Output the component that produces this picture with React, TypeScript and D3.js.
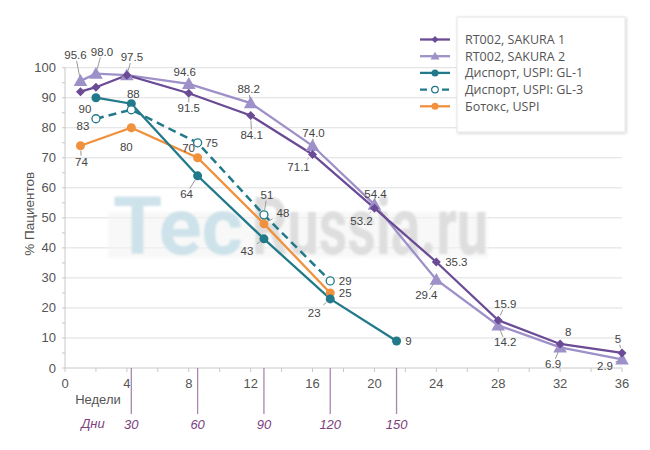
import React from "react";
import * as d3 from "d3";

// ---- Data ----
const sakuraWeeks = [1, 2, 4, 8, 12, 16, 20, 24, 28, 32, 36];
const sakura1Values = [92, 93.5, 97.5, 91.5, 84.1, 71.1, 53.2, 35.3, 15.9, 8, 5];
const sakura1Labels = ["", "", "", "91.5", "84.1", "71.1", "53.2", "35.3", "15.9", "8", "5"];
const sakura2Values = [95.6, 98.0, 97.5, 94.6, 88.2, 74.0, 54.4, 29.4, 14.2, 6.9, 2.9];
const sakura2Labels = ["95.6", "98.0", "97.5", "94.6", "88.2", "74.0", "54.4", "29.4", "14.2", "6.9", "2.9"];

const gl1Days = [14, 30, 60, 90, 120, 150];
const gl1Values = [90, 88, 64, 43, 23, 9];
const gl3Days = [14, 30, 60, 90, 120];
const gl3Values = [83, 86, 75, 51, 29];
const gl3Labels = ["83", "", "75", "51", "29"];
const botoxDays = [7, 30, 60, 90, 120];
const botoxValues = [74, 80, 70, 48, 25];

const yTicks = [0, 10, 20, 30, 40, 50, 60, 70, 80, 90, 100];
const xTicks = [0, 4, 8, 12, 16, 20, 24, 28, 32, 36];
const dayMarks = [30, 60, 90, 120, 150];

const legendNames = [
  "RT002, SAKURA 1",
  "RT002, SAKURA 2",
  "Диспорт, USPI: GL-1",
  "Диспорт, USPI: GL-3",
  "Ботокс, USPI",
];

// ---- Layout (label offsets in px relative to their point; leader flag) ----
const sakura1Off: [number, number, boolean][] = [
  [0, 0, false], [0, 0, false], [0, 0, false], [0, 15, true], [1, 20, true],
  [-14, 13, true], [-13, 13, true], [20, 0, false], [7, -16, true], [8, -12, false], [-4, -14, true],
];
const sakura2Off: [number, number, boolean][] = [
  [-5, -26, true], [6, -22, true], [5, -18, true], [-4, -12, false], [-2, -14, true],
  [1, -13, true], [1, -11, true], [-10, 15, true], [7, 17, true], [-7, 17, true], [-17, 7, true],
];
const gl1Off: [number, number, boolean][] = [
  [-11, 11, false], [2, -10, false], [-11, 18, true], [-17, 12, true], [-16, 14, true], [12, 0, false],
];
const gl3Off: [number, number, boolean][] = [
  [-13, 7, false], [0, 0, false], [14, 0, false], [3, -20, true], [15, 0, false],
];
const botoxOff: [number, number, boolean][] = [
  [1, 16, true], [-5, 19, false], [-9, -10, false], [19, -11, true], [15, 0, false],
];

const W = 650;
const H = 450;
const C1 = "#6b4b95";
const C2 = "#9e90c8";
const CT = "#21798a";
const CO = "#f0913d";
const FONT = "'Liberation Sans', Arial, sans-serif";

export default function App() {
  const x = d3.scaleLinear().domain([0, 36]).range([65, 622]);
  const y = d3.scaleLinear().domain([0, 100]).range([368, 67.7]);
  const line = d3.line<[number, number]>().x((d) => x(d[0])).y((d) => y(d[1]));

  const s1 = sakuraWeeks.map((w, i) => [w, sakura1Values[i]] as [number, number]);
  const s2 = sakuraWeeks.map((w, i) => [w, sakura2Values[i]] as [number, number]);
  const g1 = gl1Days.map((d, i) => [d / 7, gl1Values[i]] as [number, number]);
  const g3 = gl3Days.map((d, i) => [d / 7, gl3Values[i]] as [number, number]);
  const bo = botoxDays.map((d, i) => [d / 7, botoxValues[i]] as [number, number]);

  const diamond = (cx: number, cy: number, r = 4.5) =>
    `M${cx},${cy - r}L${cx + r},${cy}L${cx},${cy + r}L${cx - r},${cy}Z`;
  const triangle = (cx: number, cy: number, r = 6.8) =>
    `M${cx},${cy - r}L${cx + r},${cy + r * 0.75}L${cx - r},${cy + r * 0.75}Z`;

  const labels = (
    pts: [number, number][],
    texts: string[],
    offs: [number, number, boolean][],
    key: string
  ) =>
    pts.map((p, i) => {
      const t = texts[i];
      if (!t) return null;
      const px = x(p[0]);
      const py = y(p[1]);
      const [dx, dy, leader] = offs[i];
      const lx = px + dx;
      const ly = py + dy;
      let ln = null;
      if (leader) {
        const len = Math.hypot(dx, dy);
        const ux = dx / len;
        const uy = dy / len;
        const startD = 5;
        const endD = Math.max(startD + 2, len - (Math.abs(ux) > 0.7 ? 12 : 6));
        ln = (
          <line
            x1={px + ux * startD}
            y1={py + uy * startD}
            x2={px + ux * endD}
            y2={py + uy * endD}
            stroke="#999"
            strokeWidth={1}
          />
        );
      }
      return (
        <g key={key + i}>
          {ln}
          <text
            x={lx}
            y={ly}
            textAnchor="middle"
            dominantBaseline="central"
            fontSize={11.5}
            fill="#444"
            fontFamily={FONT}
          >
            {t}
          </text>
        </g>
      );
    });

  const legendY = (i: number) => 39.5 + i * 16.7;

  return (
    <svg
      width={W}
      height={H}
      style={{ position: "absolute", left: 0, top: 0, background: "#fff" }}
      fontFamily={FONT}
    >
      <defs>
        <filter id="shadow" x="-10%" y="-10%" width="130%" height="130%">
          <feDropShadow dx="1" dy="1" stdDeviation="1.5" floodColor="#000" floodOpacity="0.18" />
        </filter>
        <filter id="blur">
          <feGaussianBlur stdDeviation="1" />
        </filter>
      </defs>

      {/* gridlines */}
      {yTicks.slice(1).map((t) => (
        <line key={"g" + t} x1={x(0)} x2={x(36)} y1={y(t)} y2={y(t)} stroke="#dedede" strokeWidth={1} />
      ))}

      {/* watermark */}
      <rect x={108} y={212} width={380} height={46} fill="#f4f4f4" opacity={0.6} filter="url(#blur)" />
      <g
        fontSize={80}
        fontWeight="bold"
        fontFamily="Roboto, 'Liberation Sans', sans-serif"
        filter="url(#blur)"
      >
        <text x={113} y={254} fill="#cde2ea" textLength={130} lengthAdjust="spacingAndGlyphs">
          Tec
        </text>
        <text x={252} y={254} fill="#dedede" textLength={236} lengthAdjust="spacingAndGlyphs">
          Russia.ru
        </text>
      </g>

      {/* axes */}
      <line x1={x(0)} x2={x(36)} y1={y(0)} y2={y(0)} stroke="#c8c8c8" />
      <line x1={x(0)} x2={x(0)} y1={y(0)} y2={y(100)} stroke="#c8c8c8" />
      {d3.range(0, 101, 5).map((t) => (
        <line key={"yt" + t} x1={x(0) - 3} x2={x(0)} y1={y(t)} y2={y(t)} stroke="#c8c8c8" />
      ))}
      {d3.range(0, 37, 2).map((t) => (
        <line key={"xt" + t} x1={x(t)} x2={x(t)} y1={y(0)} y2={y(0) + 4} stroke="#c8c8c8" />
      ))}
      {yTicks.map((t) => (
        <text key={"yl" + t} x={x(0) - 9} y={y(t)} textAnchor="end" dominantBaseline="central" fontSize={13} fill="#555">
          {t}
        </text>
      ))}
      {xTicks.map((t) => (
        <text key={"xl" + t} x={x(t)} y={y(0) + 15} textAnchor="middle" dominantBaseline="central" fontSize={13} fill="#555">
          {t}
        </text>
      ))}
      <text
        transform={`translate(29,${(y(0) + y(100)) / 2 - 4}) rotate(-90)`}
        textAnchor="middle"
        dominantBaseline="central"
        fontSize={13.5}
        fill="#555"
      >
        % Пациентов
      </text>
      <text x={98} y={399} textAnchor="middle" dominantBaseline="central" fontSize={13} fill="#555">
        Недели
      </text>

      {/* day scale */}
      {dayMarks.map((d) => (
        <g key={"d" + d}>
          <line x1={x(d / 7)} x2={x(d / 7)} y1={y(0)} y2={414} stroke="#a987ad" strokeWidth={1.3} />
          <text x={x(d / 7)} y={424} textAnchor="middle" dominantBaseline="central" fontSize={13} fontStyle="italic" fill="#7b3f80">
            {d}
          </text>
        </g>
      ))}
      <text x={93} y={423} textAnchor="middle" dominantBaseline="central" fontSize={13} fontStyle="italic" fill="#7b3f80">
        Дни
      </text>

      {/* lines */}
      <path d={line(bo) || ""} fill="none" stroke={CO} strokeWidth={2.3} />
      <path d={line(g1) || ""} fill="none" stroke={CT} strokeWidth={2.3} />
      <path d={line(g3) || ""} fill="none" stroke={CT} strokeWidth={2.5} strokeDasharray="8,5" />
      <path d={line(s2) || ""} fill="none" stroke={C2} strokeWidth={2.3} />
      <path d={line(s1) || ""} fill="none" stroke={C1} strokeWidth={2.3} />

      {/* markers */}
      {bo.map((p, i) => (
        <circle key={"bo" + i} cx={x(p[0])} cy={y(p[1])} r={4.5} fill={CO} />
      ))}
      {g1.map((p, i) => (
        <circle key={"g1" + i} cx={x(p[0])} cy={y(p[1])} r={4.5} fill={CT} />
      ))}
      {g3.map((p, i) => (
        <circle key={"g3" + i} cx={x(p[0])} cy={y(p[1])} r={4} fill="#fff" stroke={CT} strokeWidth={1.3} />
      ))}
      {s2.map((p, i) => (
        <path key={"s2" + i} d={triangle(x(p[0]), y(p[1]))} fill={C2} />
      ))}
      {s1.map((p, i) => (
        <path key={"s1" + i} d={diamond(x(p[0]), y(p[1]))} fill={C1} />
      ))}

      {/* data labels */}
      {labels(s2, sakura2Labels, sakura2Off, "l2")}
      {labels(s1, sakura1Labels, sakura1Off, "l1")}
      {labels(g1, gl1Values.map(String), gl1Off, "lg1")}
      {labels(g3, gl3Labels, gl3Off, "lg3")}
      {labels(bo, botoxValues.map(String), botoxOff, "lbo")}

      {/* legend */}
      <rect x={457} y={17} width={168} height={115} fill="#fff" stroke="#e6e6e6" filter="url(#shadow)" />
      {legendNames.map((name, i) => {
        const ly = legendY(i);
        const col = [C1, C2, CT, CT, CO][i];
        return (
          <g key={"lg" + i}>
            <line
              x1={420}
              x2={450}
              y1={ly}
              y2={ly}
              stroke={col}
              strokeWidth={2.3}
              strokeDasharray={i === 3 ? "7,4" : undefined}
            />
            {i === 0 && <path d={diamond(435, ly, 3.5)} fill={col} />}
            {i === 1 && <path d={triangle(435, ly, 4.5)} fill={col} />}
            {(i === 2 || i === 4) && <circle cx={435} cy={ly} r={3.5} fill={col} />}
            {i === 3 && <circle cx={435} cy={ly} r={3.3} fill="#fff" stroke={col} strokeWidth={1.2} />}
            <text
              x={465}
              y={ly}
              dominantBaseline="central"
              fontSize={12.5}
              fill="#555"
              fontFamily="'Open Sans', 'Noto Sans', sans-serif"
            >
              {name}
            </text>
          </g>
        );
      })}
    </svg>
  );
}
